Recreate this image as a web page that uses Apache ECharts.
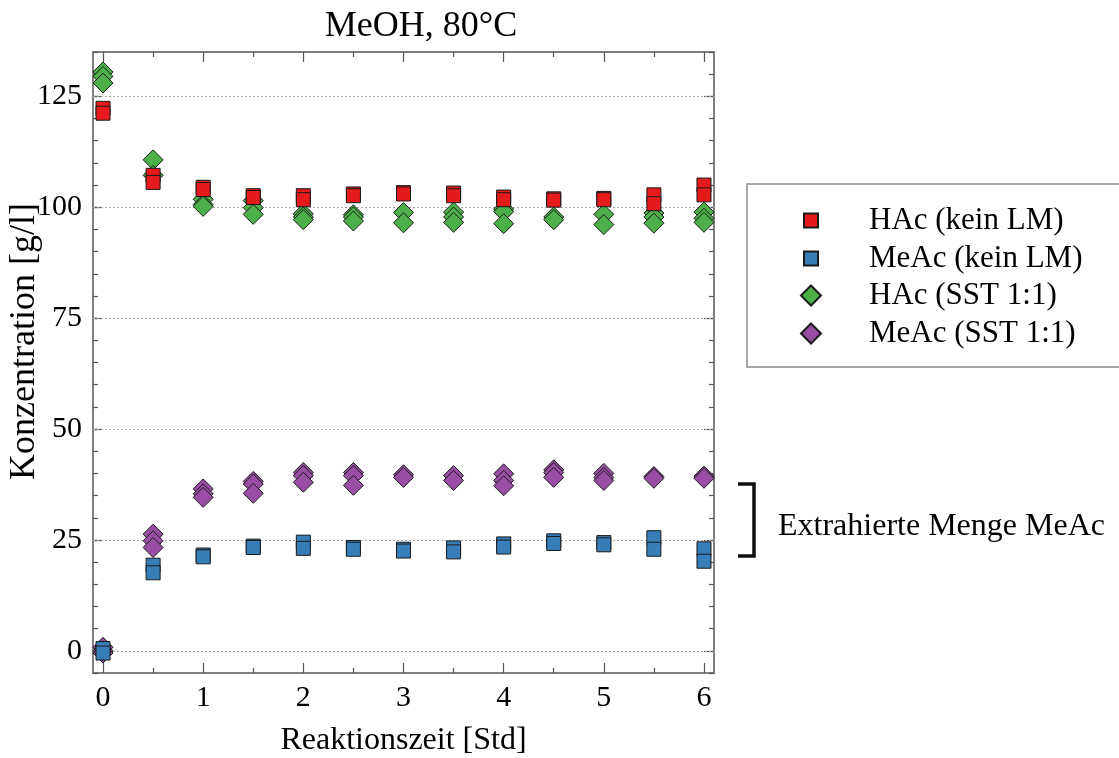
<!DOCTYPE html>
<html>
<head>
<meta charset="utf-8">
<script src="https://cdn.jsdelivr.net/npm/echarts@6/dist/echarts.min.js"></script>
<style>
  html, body { margin: 0; padding: 0; background: #fff; }
  #chart { width: 1119px; height: 758px; }
</style>
</head>
<body>
<div id="chart"></div>
<script>
// Sampling times (h)
const times = [0, 0.5, 1, 1.5, 2, 2.5, 3, 3.5, 4, 4.5, 5, 5.5, 6];

// Replicate measurements per sampling time (g/l)
const hacKeinLM = [
  [122.3, 121.2], [107.2, 105.6], [104.5, 104.0], [102.6, 102.2], [102.6, 101.7],
  [103.0, 102.6], [103.3, 103.0], [103.2, 102.6], [102.3, 101.7], [101.9, 101.6],
  [102.0, 101.7], [102.8, 100.8], [105.0, 102.8]
];
const meacKeinLM = [
  [0.5, -0.5], [19.3, 17.6], [21.6, 21.2], [23.6, 23.3], [24.5, 23.1],
  [23.3, 22.9], [22.9, 22.5], [23.2, 22.3], [24.1, 23.4], [24.8, 24.2],
  [24.4, 23.9], [25.5, 22.9], [23.0, 20.2]
];
const hacSST = [
  [130.5, 129.5, 128.0], [110.7, 107.2], [101.8, 100.6, 100.2], [101.5, 99.9, 98.4],
  [98.5, 97.8, 97.2], [98.3, 97.8, 96.9], [98.8, 96.5], [98.9, 97.8, 96.6],
  [99.6, 99.0, 96.3], [97.8, 97.2], [98.4, 96.1], [98.7, 97.8, 96.4], [98.9, 97.5, 96.6]
];
const meacSST = [
  [0.8, 0, -0.5], [26.3, 24.8, 23.3], [36.5, 35.4, 34.6], [38.2, 37.6, 35.5],
  [40.2, 39.5, 38.0], [40.2, 39.5, 37.3], [39.7, 39.1], [39.5, 38.4],
  [39.9, 38.4, 37.2], [40.8, 40.2, 39.1], [40.0, 39.1, 38.4], [39.3, 38.9], [39.4, 38.9]
];

const seriesNames = ['HAc (kein LM)', 'MeAc (kein LM)', 'HAc (SST 1:1)', 'MeAc (SST 1:1)'];
const xMajorTicks = [0, 1, 2, 3, 4, 5, 6];
const xMinorTicks = [0.5, 1.5, 2.5, 3.5, 4.5, 5.5];
const yMajorTicks = [0, 25, 50, 75, 100, 125];

const FONT = "'Liberation Serif', 'Times New Roman', serif";
const AXIS_GRAY = '#808080';
const TICK_GRAY = '#555';

function points(reps) {
  const out = [];
  reps.forEach((vals, i) => vals.forEach(v => out.push([times[i], v])));
  return out;
}

const baseX = { type: 'value', min: -0.1, max: 6.1, splitLine: { show: false } };
const baseY = { type: 'value', min: -5, max: 135, splitLine: { show: false } };
const lineStyle = { color: AXIS_GRAY, width: 2 };

function xAxis(position, ticks, len, labels) {
  return Object.assign({}, baseX, {
    position,
    axisLine: { show: true, onZero: false, lineStyle },
    axisTick: { show: true, inside: true, length: len, customValues: ticks,
                lineStyle: { color: TICK_GRAY, width: 1.2 } },
    axisLabel: labels ? { show: true, customValues: ticks, fontSize: 30, fontFamily: FONT,
                          color: '#000', margin: 10 } : { show: false }
  });
}

const chart = echarts.init(document.getElementById('chart'), null, { renderer: 'canvas' });

const markerBorder = { borderColor: '#1a1a1a', borderWidth: 1, opacity: 1 };

const legendText = { fontSize: 31, fontFamily: FONT, color: '#000', lineHeight: 26 };

const option = {
  animation: false,
  backgroundColor: '#fff',
  grid: { left: 93, right: 405, top: 52, bottom: 85, containLabel: false, outerBoundsMode: 'none' },
  xAxis: [
    Object.assign(xAxis('bottom', xMajorTicks, 10, true), {
      name: 'Reaktionszeit [Std]', nameLocation: 'middle', nameGap: 52,
      nameTextStyle: { fontSize: 32, fontFamily: FONT, color: '#000' }
    }),
    xAxis('bottom', xMinorTicks, 5, false),
    xAxis('top', xMajorTicks, 10, false),
    xAxis('top', xMinorTicks, 5, false)
  ],
  yAxis: [
    Object.assign({}, baseY, {
      position: 'left', interval: 5,
      axisLine: { show: true, onZero: false, lineStyle },
      axisTick: { show: true, inside: true, length: 5, lineStyle: { color: TICK_GRAY, width: 1.2 } },
      axisLabel: { show: false }
    }),
    Object.assign({}, baseY, {
      position: 'left',
      axisLine: { show: true, onZero: false, lineStyle },
      axisTick: { show: true, inside: true, length: 10, customValues: yMajorTicks,
                  lineStyle: { color: TICK_GRAY, width: 1.2 } },
      axisLabel: { show: true, customValues: yMajorTicks, fontSize: 30, fontFamily: FONT,
                   color: '#000', margin: 11 },
      name: 'Konzentration [g/l]', nameLocation: 'middle', nameGap: 50, nameMoveOverlap: false,
      nameTextStyle: { fontSize: 36, fontFamily: FONT, color: '#000', padding: [0, 0, 0, 42] }
    }),
    Object.assign({}, baseY, {
      position: 'right', interval: 5,
      axisLine: { show: true, onZero: false, lineStyle },
      axisTick: { show: true, inside: true, length: 5, lineStyle: { color: TICK_GRAY, width: 1.2 } },
      axisLabel: { show: false }
    }),
    Object.assign({}, baseY, {
      position: 'right',
      axisLine: { show: true, onZero: false, lineStyle },
      axisTick: { show: true, inside: true, length: 10, customValues: yMajorTicks,
                  lineStyle: { color: TICK_GRAY, width: 1.2 } },
      axisLabel: { show: false }
    })
  ],
  legend: [
    {
      data: [seriesNames[0], seriesNames[1]],
      orient: 'vertical', left: 803, top: 205, padding: 0,
      itemWidth: 14, itemHeight: 14, itemGap: 7,
      textStyle: Object.assign({ padding: [0, 0, 0, 46] }, legendText)
    },
    {
      data: [seriesNames[2], seriesNames[3]],
      orient: 'vertical', left: 800, top: 280, padding: 0,
      itemWidth: 20, itemHeight: 20, itemGap: 7,
      textStyle: Object.assign({ padding: [0, 0, 0, 43] }, legendText)
    }
  ],
  series: [
    {
      // dotted reference lines at the labelled concentrations
      name: 'gridlines', type: 'scatter', data: [], silent: true,
      markLine: {
        silent: true, symbol: 'none', z: 1, animation: false,
        label: { show: false },
        lineStyle: { color: '#a8a8a8', type: [2, 2], width: 1 },
        data: yMajorTicks.map(v => ({ yAxis: v }))
      }
    },
    {
      name: seriesNames[2], type: 'scatter', symbol: 'diamond', symbolSize: 20,
      itemStyle: Object.assign({ color: '#4daf4a' }, markerBorder),
      data: points(hacSST)
    },
    {
      name: seriesNames[3], type: 'scatter', symbol: 'diamond', symbolSize: 20,
      itemStyle: Object.assign({ color: '#984ea3' }, markerBorder),
      data: points(meacSST)
    },
    {
      name: seriesNames[0], type: 'scatter', symbol: 'rect', symbolSize: 14,
      itemStyle: Object.assign({ color: '#e41a1c' }, markerBorder),
      data: points(hacKeinLM)
    },
    {
      name: seriesNames[1], type: 'scatter', symbol: 'rect', symbolSize: 14,
      itemStyle: Object.assign({ color: '#377eb8' }, markerBorder),
      data: points(meacKeinLM)
    }
  ],
  graphic: [
    {
      type: 'text', x: 421, y: 27,
      style: { text: 'MeOH, 80°C', font: "36px " + FONT, fill: '#000',
               align: 'center', verticalAlign: 'middle' }
    },
    {
      type: 'rect', shape: { x: 747, y: 184, width: 400, height: 183 },
      style: { fill: 'none', stroke: '#8a8a8a', lineWidth: 1.5 }
    },
    {
      type: 'polyline',
      shape: { points: [[738, 484], [754, 484], [754, 556], [738, 556]] },
      style: { fill: 'none', stroke: '#111', lineWidth: 3.5 }
    },
    {
      type: 'text', x: 778, y: 527,
      style: { text: 'Extrahierte Menge MeAc', font: "32px " + FONT, fill: '#000',
               align: 'left', verticalAlign: 'middle' }
    }
  ]
};

chart.setOption(option);
</script>
</body>
</html>
